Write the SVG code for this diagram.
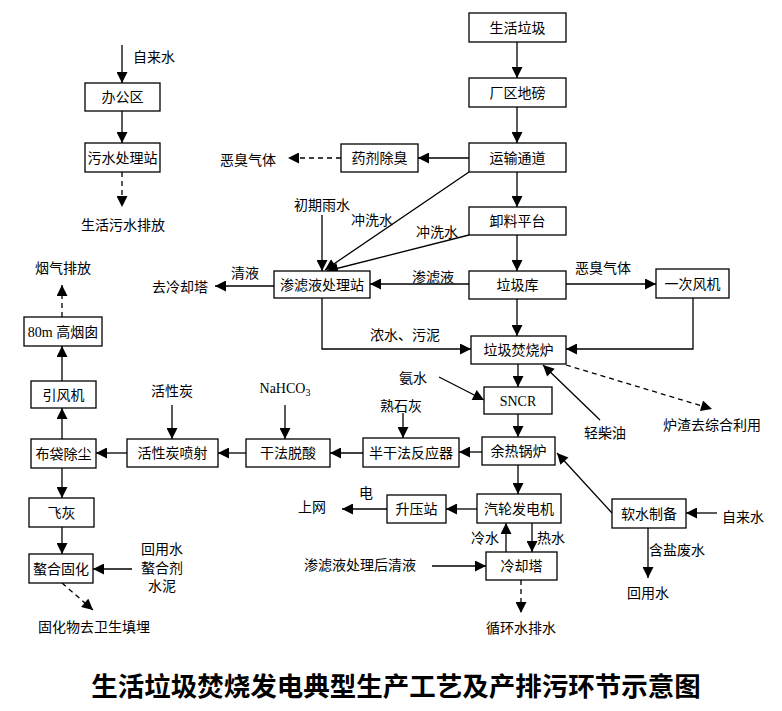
<svg xmlns="http://www.w3.org/2000/svg" width="782" height="711" viewBox="0 0 782 711">
<style>
.b rect{fill:#fff;stroke:#000;stroke-width:1.3}
text{font-family:"Liberation Serif","Noto Sans CJK SC",serif;font-size:14px;fill:#000}
.t{text-anchor:middle}
.c line,.c polyline{stroke:#000;stroke-width:1.3;fill:none}
.c .a{marker-end:url(#ah)}
.c .d{stroke-dasharray:5,4}
.title{font-family:"Noto Sans CJK SC",sans-serif;font-size:26.5px;font-weight:bold;text-anchor:middle}
</style>
<defs>
<marker id="ah" viewBox="0 0 10 10" refX="10" refY="5" markerWidth="12" markerHeight="11" markerUnits="userSpaceOnUse" orient="auto">
<path d="M0,0 L10,5 L0,10 z" fill="#000"/>
</marker>
</defs>
<rect width="782" height="711" fill="#fff"/>

<g class="c" id="connectors">
<line class="a" x1="517" y1="42" x2="517" y2="78"/>
<line class="a" x1="517" y1="107" x2="517" y2="143"/>
<line class="a" x1="517" y1="172" x2="517" y2="207"/>
<line class="a" x1="517" y1="235" x2="517" y2="271"/>
<line class="a" x1="517" y1="299" x2="517" y2="336"/>
<line class="a" x1="518" y1="364" x2="518" y2="387"/>
<line class="a" x1="518" y1="414" x2="518" y2="437"/>
<line class="a" x1="518" y1="465" x2="518" y2="494"/>
<line class="a" x1="469" y1="158" x2="418" y2="158"/>
<line class="a d" x1="341" y1="158" x2="288" y2="158"/>
<line class="a" x1="122" y1="45" x2="122" y2="83"/>
<line class="a" x1="122" y1="111" x2="122" y2="143"/>
<line class="a d" x1="122" y1="172" x2="122" y2="207"/>
<line class="a" x1="322" y1="215" x2="322" y2="271"/>
<line class="a" x1="469" y1="172" x2="325" y2="270"/>
<line class="a" x1="469" y1="235" x2="327" y2="271"/>
<line class="a" x1="469" y1="284" x2="370" y2="284"/>
<line class="a" x1="274" y1="286" x2="215" y2="286"/>
<polyline class="a" points="322,298 322,349 471,349"/>
<line class="a" x1="566" y1="284" x2="656" y2="284"/>
<polyline class="a" points="693,298 693,349 566,349"/>
<line class="a" x1="439" y1="377" x2="484" y2="400"/>
<line class="a" x1="600" y1="420" x2="543" y2="365"/>
<line class="a d" x1="566" y1="365" x2="712" y2="409"/>
<line class="a" x1="482" y1="452" x2="459" y2="452"/>
<line class="a" x1="363" y1="453" x2="330" y2="453"/>
<line class="a" x1="246" y1="453" x2="218" y2="453"/>
<line class="a" x1="127" y1="453" x2="96" y2="453"/>
<line class="a" x1="62" y1="439" x2="62" y2="408"/>
<line class="a" x1="62" y1="381" x2="62" y2="346"/>
<line class="a d" x1="62" y1="317" x2="62" y2="285"/>
<line class="a" x1="62" y1="468" x2="62" y2="498"/>
<line class="a" x1="62" y1="527" x2="62" y2="554"/>
<line class="a" x1="132" y1="569" x2="93" y2="569"/>
<line class="a d" x1="62" y1="583" x2="93" y2="610"/>
<line class="a" x1="172" y1="405" x2="172" y2="439"/>
<line class="a" x1="285" y1="405" x2="285" y2="439"/>
<line class="a" x1="403" y1="413" x2="403" y2="438"/>
<line class="a" x1="477" y1="509" x2="446" y2="509"/>
<line class="a" x1="387" y1="509" x2="342" y2="509"/>
<line class="a" x1="506" y1="552" x2="506" y2="523"/>
<line class="a" x1="532" y1="523" x2="532" y2="552"/>
<line class="a" x1="432" y1="566" x2="486" y2="566"/>
<line class="a d" x1="521" y1="580" x2="521" y2="613"/>
<line class="a" x1="612" y1="513" x2="557" y2="453"/>
<line class="a" x1="717" y1="513" x2="686" y2="513"/>
<line class="a" x1="648" y1="528" x2="648" y2="578"/>
</g>

<g class="b" id="n_shlj"><rect x="469" y="13" width="97" height="29"/><text class="t" x="517.5" y="32.5">生活垃圾</text></g>
<g class="b" id="n_cqdb"><rect x="469" y="78" width="97" height="29"/><text class="t" x="517.5" y="97.5">厂区地磅</text></g>
<g class="b" id="n_ystd"><rect x="469" y="143" width="97" height="29"/><text class="t" x="517.5" y="162.5">运输通道</text></g>
<g class="b" id="n_xlpt"><rect x="469" y="207" width="97" height="28"/><text class="t" x="517.5" y="226">卸料平台</text></g>
<g class="b" id="n_ljk"><rect x="469" y="271" width="97" height="28"/><text class="t" x="517.5" y="290">垃圾库</text></g>
<g class="b" id="n_ljfsl"><rect x="471" y="336" width="95" height="28"/><text class="t" x="518.5" y="355">垃圾焚烧炉</text></g>
<g class="b" id="n_sncr"><rect x="484" y="387" width="68" height="27"/><text class="t" x="518" y="405.5">SNCR</text></g>
<g class="b" id="n_yrgl"><rect x="482" y="437" width="73" height="28"/><text class="t" x="518.5" y="456">余热锅炉</text></g>
<g class="b" id="n_qlfdj"><rect x="477" y="494" width="84" height="29"/><text class="t" x="519" y="513.5">汽轮发电机</text></g>
<g class="b" id="n_lqt"><rect x="486" y="552" width="71" height="28"/><text class="t" x="521.5" y="571">冷却塔</text></g>
<g class="b" id="n_syz"><rect x="387" y="495" width="59" height="28"/><text class="t" x="416.5" y="514">升压站</text></g>
<g class="b" id="n_rszb"><rect x="612" y="499" width="74" height="29"/><text class="t" x="649" y="518.5">软水制备</text></g>
<g class="b" id="n_ycfj"><rect x="656" y="269" width="73" height="29"/><text class="t" x="692.5" y="288.5">一次风机</text></g>
<g class="b" id="n_yjcc"><rect x="341" y="144" width="77" height="28"/><text class="t" x="379.5" y="163">药剂除臭</text></g>
<g class="b" id="n_slycl"><rect x="274" y="271" width="96" height="27"/><text class="t" x="322" y="289.5">渗滤液处理站</text></g>
<g class="b" id="n_bgf"><rect x="363" y="438" width="96" height="29"/><text class="t" x="411" y="457.5">半干法反应器</text></g>
<g class="b" id="n_gftl"><rect x="246" y="439" width="84" height="28"/><text class="t" x="288" y="458">干法脱酸</text></g>
<g class="b" id="n_hxtps"><rect x="127" y="439" width="91" height="28"/><text class="t" x="172.5" y="458">活性炭喷射</text></g>
<g class="b" id="n_bdcc"><rect x="31" y="439" width="65" height="29"/><text class="t" x="63.5" y="458.5">布袋除尘</text></g>
<g class="b" id="n_yfj"><rect x="31" y="381" width="65" height="27"/><text class="t" x="63.5" y="399.5">引风机</text></g>
<g class="b" id="n_yc"><rect x="24" y="317" width="78" height="29"/><text class="t" x="63" y="336.5">80m 高烟囱</text></g>
<g class="b" id="n_fh"><rect x="29" y="498" width="65" height="29"/><text class="t" x="61.5" y="517.5">飞灰</text></g>
<g class="b" id="n_ahgh"><rect x="29" y="554" width="64" height="29"/><text class="t" x="61" y="573.5">螯合固化</text></g>
<g class="b" id="n_bgq"><rect x="85" y="83" width="75" height="28"/><text class="t" x="122.5" y="102">办公区</text></g>
<g class="b" id="n_wsclz"><rect x="85" y="143" width="75" height="29"/><text class="t" x="122.5" y="162.5">污水处理站</text></g>

<g id="labels">
<text x="133" y="62">自来水</text>
<text class="t" x="123" y="230">生活污水排放</text>
<text class="t" x="248" y="165">恶臭气体</text>
<text class="t" x="322" y="210">初期雨水</text>
<text class="t" x="372" y="225">冲洗水</text>
<text class="t" x="437" y="237">冲洗水</text>
<text class="t" x="433" y="282">渗滤液</text>
<text class="t" x="245" y="278">清液</text>
<text class="t" x="180" y="292">去冷却塔</text>
<text class="t" x="405" y="340">浓水、污泥</text>
<text class="t" x="603" y="273">恶臭气体</text>
<text class="t" x="63" y="273">烟气排放</text>
<text class="t" x="172" y="396">活性炭</text>
<text class="t" x="285" y="393">NaHCO<tspan font-size="10" dy="3">3</tspan></text>
<text class="t" x="401" y="411">熟石灰</text>
<text class="t" x="413" y="383">氨水</text>
<text class="t" x="605" y="438">轻柴油</text>
<text class="t" x="712" y="430">炉渣去综合利用</text>
<text class="t" x="366" y="498">电</text>
<text class="t" x="312" y="512">上网</text>
<text class="t" x="485" y="543">冷水</text>
<text class="t" x="551" y="543">热水</text>
<text class="t" x="743" y="522">自来水</text>
<text class="t" x="677" y="555">含盐废水</text>
<text class="t" x="648" y="598">回用水</text>
<text class="t" x="360" y="570">渗滤液处理后清液</text>
<text class="t" x="521" y="633">循环水排水</text>
<text class="t" x="162" y="554">回用水</text>
<text class="t" x="162" y="573">螯合剂</text>
<text class="t" x="162" y="591">水泥</text>
<text class="t" x="94" y="632">固化物去卫生填埋</text>
<text class="title" x="396" y="696">生活垃圾焚烧发电典型生产工艺及产排污环节示意图</text>
</g>
</svg>
